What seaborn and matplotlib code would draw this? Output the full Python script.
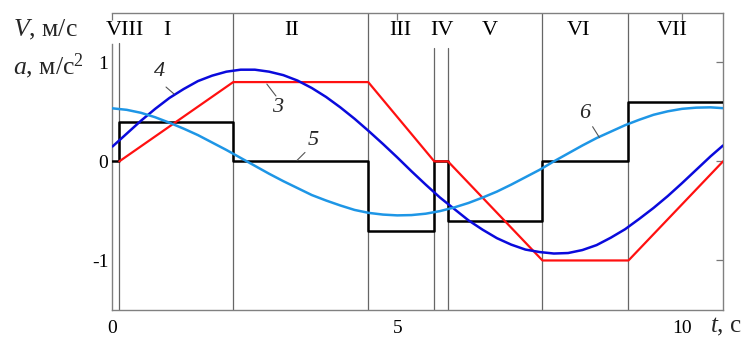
import matplotlib
matplotlib.use("Agg")
import matplotlib.pyplot as plt
import pandas as pd
import seaborn as sns

# ---- data ---------------------------------------------------------------
# time grid for the smooth curves, s
t_curve = [0.0, 0.25, 0.5, 0.75, 1.0, 1.25, 1.5, 1.75, 2.0, 2.25, 2.5, 2.75,
           3.0, 3.25, 3.5, 3.75, 4.0, 4.25, 4.5, 4.75, 5.0, 5.25, 5.5, 5.75,
           6.0, 6.25, 6.5, 6.75, 7.0, 7.25, 7.5, 7.75, 8.0, 8.25, 8.5, 8.75,
           9.0, 9.25, 9.5, 9.75, 10.0, 10.25, 10.5, 10.72]
# curve 4: speed, m/s
speed_4 = [0.15, 0.28, 0.41, 0.53, 0.64, 0.73, 0.81, 0.865, 0.905, 0.925,
           0.925, 0.905, 0.87, 0.815, 0.74, 0.65, 0.545, 0.43, 0.305, 0.175,
           0.04, -0.10, -0.235, -0.365, -0.48, -0.595, -0.69, -0.775, -0.84,
           -0.89, -0.915, -0.93, -0.925, -0.895, -0.845, -0.77, -0.685,
           -0.58, -0.47, -0.35, -0.22, -0.085, 0.05, 0.16]
# curve 6: acceleration, m/s^2
accel_6 = [0.535, 0.52, 0.49, 0.445, 0.39, 0.33, 0.265, 0.19, 0.115, 0.035,
           -0.045, -0.125, -0.2, -0.27, -0.34, -0.395, -0.445, -0.49, -0.52,
           -0.537, -0.545, -0.542, -0.528, -0.502, -0.465, -0.42, -0.365,
           -0.305, -0.235, -0.16, -0.085, 0.0, 0.08, 0.16, 0.235, 0.30,
           0.365, 0.42, 0.47, 0.505, 0.53, 0.542, 0.545, 0.537]

# curve 5: piecewise-constant acceleration (interval edges and levels)
step_edges = [0.0, 0.12, 2.12, 4.49, 5.65, 5.89, 7.55, 9.06, 10.72]
step_levels = [0.0, 0.4, 0.0, -0.7, 0.0, -0.6, 0.0, 0.6]

# curve 3: piecewise-linear speed (breakpoints)
speed_3_t = [0.12, 2.12, 4.49, 5.65, 5.89, 7.55, 9.06, 10.72]
speed_3 = [0.0, 0.8, 0.8, 0.0, 0.0, -1.0, -1.0, 0.0]

# motion phases
phase_bounds = [0.12, 2.12, 4.49, 5.65, 5.89, 7.55, 9.06]
phase_names = ["VIII", "I", "II", "III", "IV", "V", "VI", "VII"]

x_ticks = [0, 5, 10]
y_ticks = [-1, 0, 1]

# ---- layout / style -----------------------------------------------------
phase_label_x = [0.22, 0.96, 3.15, 5.06, 5.78, 6.62, 8.18, 9.82]
phase_line_top = [0.898, 1, 1, 0.881, 0.881, 1, 1]

sns.set_style("white")
plt.rcParams["font.family"] = ["Liberation Serif", "DejaVu Serif"]
plt.rcParams["mathtext.fontset"] = "custom"
plt.rcParams["mathtext.rm"] = "Liberation Serif"
plt.rcParams["mathtext.it"] = "Liberation Serif:italic"

fig = plt.figure(figsize=(7.47, 3.39), dpi=100)
ax = fig.add_axes([0.1506, 0.0855, 0.8173, 0.877])

df_smooth = pd.DataFrame({"t": t_curve, "v4": speed_4, "a6": accel_6})
df_step = pd.DataFrame({"t": step_edges, "a5": step_levels + [step_levels[-1]]})
df_lin = pd.DataFrame({"t": speed_3_t, "v3": speed_3})

grey = "#666666"
for b, top in zip(phase_bounds, phase_line_top):
    ax.axvline(b, ymin=0, ymax=top, color=grey, lw=0.9, zorder=1)

sns.lineplot(data=df_step, x="t", y="a5", ax=ax, color="black", lw=1.8,
             drawstyle="steps-post", sort=False, zorder=3)
sns.lineplot(data=df_lin, x="t", y="v3", ax=ax, color="#ff1010", lw=1.6,
             sort=False, zorder=4)
sns.lineplot(data=df_smooth, x="t", y="v4", ax=ax, color="#0a0adc", lw=1.8,
             sort=False, zorder=5)
sns.lineplot(data=df_smooth, x="t", y="a6", ax=ax, color="#1e96e6", lw=1.8,
             sort=False, zorder=6)

ax.set_xlim(0, 10.72)
ax.set_ylim(-1.5, 1.5)
ax.set_xticks(x_ticks)
ax.set_yticks(y_ticks)
ax.set_xticklabels([str(v) for v in x_ticks])
ax.set_yticklabels([str(v) for v in y_ticks])
ax.set_xlabel("")
ax.set_ylabel("")
ax.tick_params(direction="in", top=True, right=True, length=5, width=0.9,
               color="#777777", labelsize=14, labelcolor="black")
ax.tick_params(axis="x", pad=7)
ax.tick_params(axis="y", pad=3)
for side, sp in ax.spines.items():
    sp.set_color("#808080")
    sp.set_linewidth(1.0)
    sp.set_visible(True)
ax.spines["left"].set_bounds(-1.5, 1.18)

# phase labels
for name, x in zip(phase_names, phase_label_x):
    ax.text(x, 1.32, name, ha="center", va="center", fontsize=16,
            color="black", zorder=7)

# curve labels with leader lines
curve_tags = [("4", 0.83, 0.91, (0.94, 1.08), (0.75, 0.68)),
              ("3", 2.90, 0.54, (2.71, 2.87), (0.78, 0.66)),
              ("5", 3.52, 0.21, (3.38, 3.24), (0.09, 0.01)),
              ("6", 8.29, 0.48, (8.43, 8.55), (0.35, 0.24))]
for tag, tx, ty, lx, ly in curve_tags:
    ax.text(tx, ty, tag, ha="center", va="center", fontsize=16,
            fontstyle="italic", zorder=7)
    ax.plot(lx, ly, color="#555555", lw=0.8, zorder=7)

# axis titles
fig.text(0.0174, 0.891, "$V$, м/с", fontsize=18.5, ha="left", va="baseline")
fig.text(0.0174, 0.782, "$a$, м/с$^2$", fontsize=18.5, ha="left", va="baseline")
fig.text(0.950, 0.035, "$t$, с", fontsize=18, ha="left", va="center")

fig.savefig("out.png", dpi=100)
